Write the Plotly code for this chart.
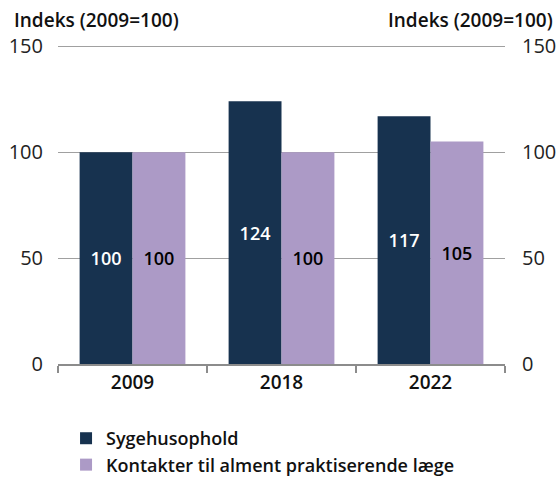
import plotly.graph_objects as go

years = ["2009", "2018", "2022"]
sygehusophold = [100, 124, 117]
kontakter = [100, 100, 105]
series_names = ["Sygehusophold", "Kontakter til alment praktiserende læge"]
y_ticks = [0, 50, 100, 150]
axis_title = "Indeks (2009=100)"

DARK = "#17324F"
LILAC = "#AC9AC6"
FONT = "Open Sans"
Y_RANGE = [0, 152]

fig = go.Figure()
fig.add_trace(go.Bar(
    x=years, y=sygehusophold, name=series_names[0],
    marker=dict(color=DARK, line=dict(width=0)),
    text=[str(v) for v in sygehusophold], textposition="inside",
    insidetextanchor="middle",
    textfont=dict(color="white", size=18, family=FONT, weight=600),
))
fig.add_trace(go.Bar(
    x=years, y=kontakter, name=series_names[1],
    marker=dict(color=LILAC, line=dict(width=0)),
    text=[str(v) for v in kontakter], textposition="inside",
    insidetextanchor="middle",
    textfont=dict(color="black", size=18, family=FONT, weight=600),
))
# invisible trace so the right-hand axis is drawn
fig.add_trace(go.Scatter(x=years, y=[None] * len(years), yaxis="y2",
                         showlegend=False, hoverinfo="skip"))

fig.update_layout(
    width=558, height=479,
    margin=dict(l=58, r=53, t=42, b=115, autoexpand=False),
    paper_bgcolor="white", plot_bgcolor="white",
    barmode="group", bargap=0.29, bargroupgap=0,
    font=dict(family=FONT, size=19, color="#222"),
    uniformtext=dict(minsize=18, mode="show"),
    xaxis=dict(
        showline=True, linecolor="#8c8c8c", linewidth=1.5,
        ticks="outside", tickson="boundaries", ticklen=7,
        tickcolor="#8c8c8c", tickwidth=1.5,
        tickfont=dict(size=19, family=FONT, weight=600, color="#111"),
        showgrid=False,
    ),
    yaxis=dict(
        range=Y_RANGE, tickvals=y_ticks, showgrid=True,
        gridcolor="#a0a0a0", gridwidth=1, zeroline=False,
        ticks="", ticklabelstandoff=14,
        tickfont=dict(size=20, family=FONT, color="#222"),
    ),
    yaxis2=dict(
        range=Y_RANGE, tickvals=y_ticks, overlaying="y", side="right",
        showgrid=False, zeroline=False, ticks="", ticklabelstandoff=16,
        tickfont=dict(size=20, family=FONT, color="#222"),
    ),
    legend=dict(
        orientation="v", x=0.018, xanchor="left", y=-0.174, yanchor="top",
        font=dict(size=18, family=FONT, weight=600, color="#111"),
        tracegroupgap=0, itemwidth=30,
    ),
    showlegend=True,
    annotations=[
        dict(text=axis_title, xref="paper", yref="paper", x=-46 / 447, y=1.021,
             xanchor="left", yanchor="bottom", showarrow=False,
             font=dict(size=19, family=FONT, weight=600, color="#111")),
        dict(text=axis_title, xref="paper", yref="paper", x=1 + 50 / 447, y=1.021,
             xanchor="right", yanchor="bottom", showarrow=False,
             font=dict(size=19, family=FONT, weight=600, color="#111")),
    ],
)

fig.write_html("out.html")
